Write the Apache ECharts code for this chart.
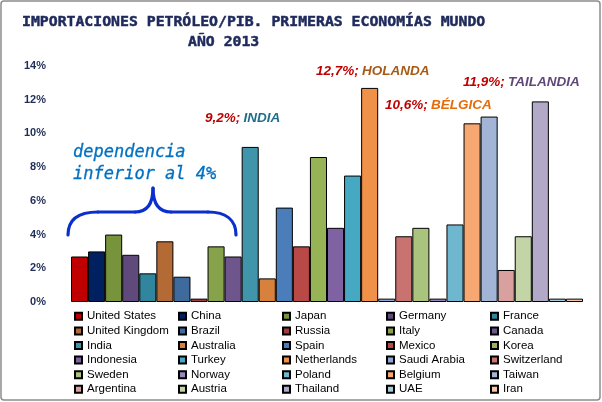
<!DOCTYPE html>
<html>
<head>
<meta charset="utf-8">
<script src="https://cdn.jsdelivr.net/npm/echarts@6/dist/echarts.min.js"></script>
<style>html,body{margin:0;padding:0;background:#fff;}#c{width:602px;height:402px;}</style>
</head>
<body>
<div id="c"></div>
<script>
const countries = ['United States','China','Japan','Germany','France','United Kingdom','Brazil','Russia','Italy','Canada','India','Australia','Spain','Mexico','Korea','Indonesia','Turkey','Netherlands','Saudi Arabia','Switzerland','Sweden','Norway','Poland','Belgium','Taiwan','Argentina','Austria','Thailand','UAE','Iran'];
const values = [2.7,3.0,4.0,2.8,1.7,3.6,1.5,0.2,3.3,2.7,9.2,1.4,5.6,3.3,8.6,4.4,7.5,12.7,0.2,3.9,4.4,0.2,4.6,10.6,11.0,1.9,3.9,11.9,0.2,0.2];
const colors = ['#C00000','#002060','#77933C','#604A7B','#31859C','#B46A34','#3F6A9E','#A03C3A','#86A34B','#6E568C','#4095AB','#D8813C','#4A7DBA','#B84946','#96B456','#7E62A1','#45A9C4','#F0914A','#8FA8D8','#C97371','#AAC47E','#9B86BE','#6FB7CE','#F7A772','#A2B5D7','#D8A1A0','#C3D4A7','#B2A8C7','#A6CCDC','#F9C5A6'];
const yTicks = {min:0, max:14, interval:2};
const titleLine1 = 'IMPORTACIONES PETRÓLEO/PIB. PRIMERAS ECONOMÍAS MUNDO';
const titleLine2 = 'AÑO 2013';

const chart = echarts.init(document.getElementById('c'), null, {renderer:'canvas'});
const series = countries.map((n,i)=>({
  name:n, type:'bar', data:[values[i]],
  barGap:'0%', barCategoryGap:'0%',
  itemStyle:{color:colors[i], borderColor:'#000', borderWidth:1}
}));
const annFont = {fontFamily:'Liberation Sans', fontWeight:'bold', fontStyle:'italic', fontSize:13.5};
function ann(x,y,num,name,col){
  return {type:'text', x:x, y:y, style:{text:'{r|'+num+'} {c|'+name+'}', verticalAlign:'middle',
    rich:{r:Object.assign({fill:'#C00000', color:'#C00000'},annFont), c:Object.assign({fill:col,color:col},annFont)}}};
}
const bStyle = {fill:'none', lineWidth:3.2, stroke:'#0A2FCC', lineCap:'round'};
function bz(x1,y1,c1x,c1y,c2x,c2y,x2,y2){return {type:'bezierCurve', shape:{x1:x1,y1:y1,cpx1:c1x,cpy1:c1y,cpx2:c2x,cpy2:c2y,x2:x2,y2:y2}, style:bStyle, silent:true};}
function ln(x1,y1,x2,y2){return {type:'line', shape:{x1:x1,y1:y1,x2:x2,y2:y2}, style:bStyle, silent:true};}
const titleStyle = {fontFamily:'DejaVu Sans Mono', fontWeight:'bold', fontSize:14.8, color:'#1F2A5C', textBorderColor:'#1F2A5C', textBorderWidth:0.5};
chart.setOption({
  animation:false,
  backgroundColor:'#fff',
  color:colors,
  title:[
    {text:titleLine1, left:22, top:15, padding:0, textStyle:titleStyle},
    {text:titleLine2, left:188, top:35, padding:0, textStyle:titleStyle}
  ],
  legend:{
    data:countries, left:74, top:309, width:525, padding:0,
    itemWidth:7, itemHeight:7, itemGap:0, icon:'rect',
    textStyle:{fontFamily:'Liberation Sans', fontSize:11.5, color:'#000', width:91, lineHeight:14.6}
  },
  grid:{left:71, right:19, top:66, bottom:100},
  xAxis:{type:'category', data:[''], axisLine:{show:false}, axisTick:{show:false}, axisLabel:{show:false}},
  yAxis:{type:'value', min:yTicks.min, max:yTicks.max, interval:yTicks.interval,
    splitLine:{show:false}, axisLine:{show:false}, axisTick:{show:false},
    axisLabel:{formatter:'{value}%', fontFamily:'Liberation Sans', fontWeight:'bold', fontSize:11, color:'#1F2D5A', margin:25}},
  series:series,
  graphic:[
    {type:'rect', shape:{x:1, y:1, width:599, height:399, r:3}, style:{fill:'none', stroke:'#8c8c8c', lineWidth:1.5}, silent:true},
    {type:'text', x:73, y:164, style:{text:'dependencia\ninferior al 4%', fill:'#0070C0', fontFamily:'DejaVu Sans Mono', fontStyle:'italic', fontSize:17, lineHeight:22, verticalAlign:'middle', stroke:'#0070C0', lineWidth:0.3}},
    bz(68,235,68,220,78,212,98,212),
    ln(98,212,135,212),
    bz(135,212,147,212,153,204,153,188),
    bz(153,188,153,204,159,212,171,212),
    ln(171,212,208,212),
    bz(208,212,226,212,236,220,236,235),
    ann(205,118,'9,2%;','INDIA','#1F6E8C'),
    ann(316,71,'12,7%;','HOLANDA','#A65A16'),
    ann(385,105,'10,6%;','BÉLGICA','#E46C0A'),
    ann(463,82,'11,9%;','TAILANDIA','#60497A')
  ]
});
</script>
</body>
</html>
